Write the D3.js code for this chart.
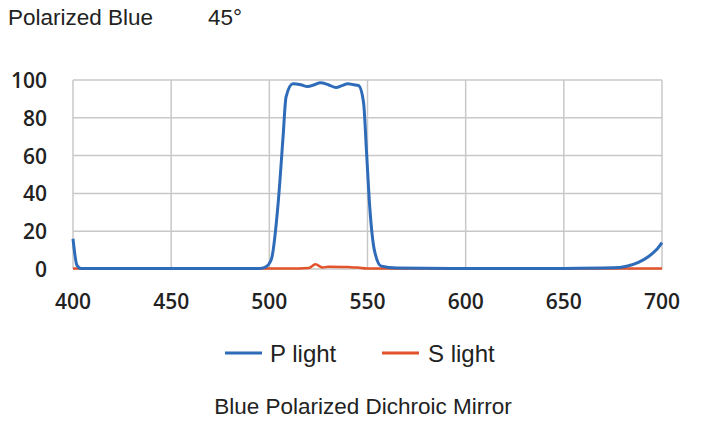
<!DOCTYPE html><html><head><meta charset="utf-8"><script src="https://cdn.jsdelivr.net/npm/d3@7"></script>
<style>body{margin:0;background:#fff}</style></head><body><svg id="c" width="704" height="433"></svg><script>
const xTicks=[400,450,500,550,600,650,700];
const yTicks=[0,20,40,60,80,100];
const pWave=[400,402,404,420,480,495,498,501,504.5,507,508.5,512,516,519.5,523,526,530,534,537,540,543,545.5,548,549.5,551,553.5,557,565,600,650,675,682,688,693,697,700];
const pVal=[16,2,0.3,0.2,0.2,0.3,1,5,35,70,91,98,97.5,96.5,97.5,98.5,97.5,96,97,98,97.5,97,88,62,35,10,1.5,0.5,0.2,0.3,0.6,1.5,3.5,6.5,10,14];
const sWave=[400,450,500,515,520,523.5,527,530,540,545,550,600,650,700];
const sVal=[0.3,0.3,0.3,0.3,0.5,2.5,0.8,1.2,1,0.8,0.3,0.3,0.3,0.3];
const svg=d3.select("#c");
const x=d3.scaleLinear().domain([400,700]).range([73,662]);
const y=d3.scaleLinear().domain([0,100]).range([269,80]);
const F="Liberation Sans, Arial";
svg.append("text").attr("x",8).attr("y",25).attr("font-family",F).attr("font-size",22.5).attr("fill","#222").text("Polarized Blue");
svg.append("text").attr("x",208).attr("y",25).attr("font-family",F).attr("font-size",22.5).attr("fill","#222").text("45°");
const g=svg.append("g");
yTicks.forEach(t=>g.append("line").attr("x1",73).attr("x2",662).attr("y1",y(t)).attr("y2",y(t)).attr("stroke","#c8c8c8").attr("stroke-width",1.5));
xTicks.forEach(t=>g.append("line").attr("x1",x(t)).attr("x2",x(t)).attr("y1",80).attr("y2",269).attr("stroke","#c8c8c8").attr("stroke-width",1.5));
yTicks.forEach(t=>svg.append("text").attr("x",47).attr("y",y(t)+8).attr("text-anchor","end").attr("font-family","Open Sans").attr("font-weight",600).attr("font-size",21).attr("fill","#222").text(t));
xTicks.forEach(t=>svg.append("text").attr("x",x(t)).attr("y",309).attr("text-anchor","middle").attr("font-family","Open Sans").attr("font-weight",600).attr("font-size",21).attr("fill","#222").text(t));
const line=d3.line().x(d=>x(d[0])).y(d=>y(d[1])).curve(d3.curveMonotoneX);
svg.append("path").attr("d",line(sWave.map((w,i)=>[w,sVal[i]]))).attr("fill","none").attr("stroke","#e2532b").attr("stroke-width",2.5);
svg.append("path").attr("d",line(pWave.map((w,i)=>[w,pVal[i]]))).attr("fill","none").attr("stroke","#2e6bb8").attr("stroke-width",3);
svg.append("line").attr("x1",225).attr("x2",262).attr("y1",353).attr("y2",353).attr("stroke","#2e6bb8").attr("stroke-width",3);
svg.append("text").attr("x",270).attr("y",362).attr("font-family",F).attr("font-size",24).attr("fill","#222").text("P light");
svg.append("line").attr("x1",382).attr("x2",419).attr("y1",353).attr("y2",353).attr("stroke","#e2532b").attr("stroke-width",3);
svg.append("text").attr("x",428).attr("y",362).attr("font-family",F).attr("font-size",24).attr("fill","#222").text("S light");
svg.append("text").attr("x",363).attr("y",414).attr("text-anchor","middle").attr("font-family",F).attr("font-size",22.5).attr("fill","#222").text("Blue Polarized Dichroic Mirror");
</script></body></html>
